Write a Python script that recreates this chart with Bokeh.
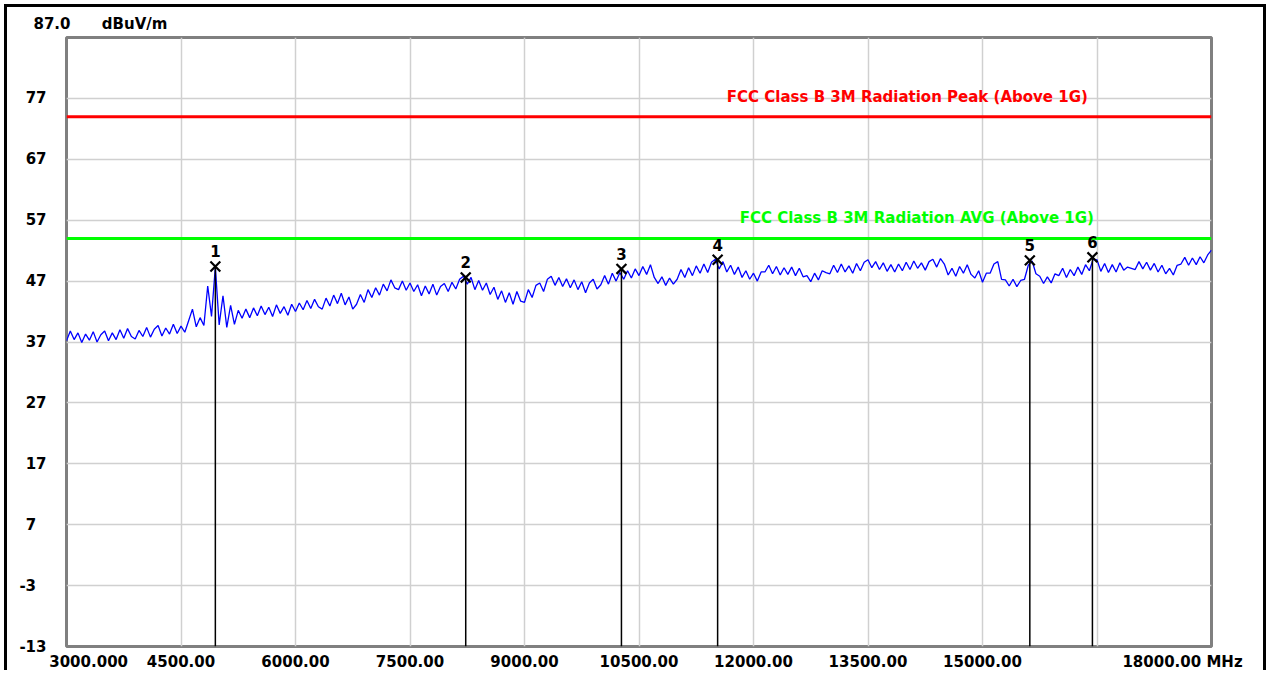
from bokeh.plotting import figure
from bokeh.models import Range1d, FixedTicker, ColumnDataSource
from bokeh.core.properties import value
from bokeh.embed import file_html
from bokeh.resources import INLINE

# ---------------- data ----------------
f_start, f_stop, f_step = 3000, 18000, 50
trace_level = [
    37.2, 38.8, 37.4, 38.5, 36.9, 38.3, 37.3, 38.7, 37.0, 38.2,
    38.8, 37.2, 38.5, 37.4, 39.0, 37.6, 39.2, 37.9, 37.5, 38.9,
    37.9, 39.4, 37.8, 39.1, 39.7, 38.0, 39.3, 38.3, 39.9, 38.4,
    39.6, 38.6, 40.5, 42.4, 39.5, 41.0, 39.7, 46.2, 41.2, 49.3,
    39.8, 44.6, 39.4, 43.0, 39.9, 42.2, 40.9, 42.4, 41.0, 42.6,
    41.3, 42.9, 41.5, 42.7, 41.2, 43.1, 41.7, 42.8, 41.4, 43.2,
    42.0, 43.4, 42.3, 43.8, 42.5, 44.0, 42.8, 42.4, 44.2, 42.9,
    44.7, 43.3, 45.0, 43.1, 44.4, 42.4, 43.2, 44.8, 43.5, 45.6,
    44.3, 45.9, 44.7, 46.5, 45.4, 47.2, 45.9, 45.6, 47.0, 45.5,
    46.7, 45.3, 46.4, 44.6, 46.2, 44.9, 46.5, 44.7, 46.1, 46.6,
    45.3, 46.8, 45.7, 47.3, 47.8, 46.5, 47.6, 45.6, 47.1, 45.5,
    46.7, 44.8, 46.0, 44.0, 45.4, 43.5, 45.1, 43.2, 45.3, 43.7,
    43.5, 45.6, 44.3, 46.3, 46.7, 45.3, 47.3, 47.8, 46.3, 47.6,
    46.1, 47.4, 45.9, 47.2, 45.6, 46.9, 45.1, 46.7, 47.3, 45.7,
    46.4, 47.9, 46.5, 48.3, 47.0, 48.4, 47.3, 48.7, 47.5, 49.0,
    47.9, 49.4, 48.1, 49.7, 47.6, 46.6, 47.7, 46.3, 47.5, 46.5,
    47.3, 48.9, 47.6, 49.2, 47.9, 49.5, 48.3, 49.8, 48.4, 50.1,
    50.6, 49.0, 50.2, 48.5, 49.6, 48.1, 49.3, 47.6, 48.7, 47.3,
    48.3, 47.0, 48.5, 48.5, 49.6, 48.2, 49.4, 48.0, 49.2, 48.1,
    49.3, 47.9, 49.1, 47.7, 47.9, 46.9, 48.3, 47.2, 48.7, 48.4,
    48.2, 49.6, 48.4, 49.8, 48.5, 49.5, 48.3, 49.9, 48.7, 50.1,
    50.5, 49.2, 50.2, 48.9, 50.0, 48.6, 49.7, 48.5, 49.8, 48.7,
    50.1, 48.9, 50.3, 49.1, 50.0, 48.8, 50.2, 50.6, 49.3, 50.7,
    49.8, 48.0, 49.1, 47.8, 49.4, 48.3, 49.7, 48.1, 47.5, 48.7,
    46.8, 48.3, 48.3, 49.8, 50.2, 47.3, 47.2, 46.2, 47.3, 46.1,
    47.1, 47.3, 49.6, 50.3, 48.2, 47.8, 46.6, 47.7, 46.7, 48.2,
    47.9, 49.1, 47.6, 48.9, 47.9, 49.3, 48.1, 49.7, 48.7, 50.6,
    50.5, 48.6, 49.9, 48.4, 49.7, 48.5, 50.0, 48.8, 49.3, 49.1,
    48.9, 50.2, 49.0, 50.1, 48.8, 49.9, 48.5, 49.6, 48.2, 49.1,
    48.0, 49.6, 49.8, 50.9, 49.6, 50.8, 49.7, 51.0, 50.0, 51.3,
    52.1,
]
trace_freq = [f_start + i * f_step for i in range(len(trace_level))]

marker_ids = ["1", "2", "3", "4", "5", "6"]
marker_freq = [4950, 8230, 10270, 11530, 15620, 16440]
marker_level = [49.4, 47.6, 49.0, 50.5, 50.4, 50.9]

limit_names = ["FCC Class B 3M Radiation Peak (Above 1G)",
               "FCC Class B 3M Radiation AVG (Above 1G)"]
limit_levels = [74, 54]
limit_colors = ["#ff0000", "#00ff00"]
limit_label_freq = [16380, 16460]

x_ticks = [3000, 4500, 6000, 7500, 9000, 10500, 12000, 13500, 15000, 16500, 18000]
x_tick_labels = ["\u2007\u2007\u2007\u20073000.000", "4500.00", "6000.00", "7500.00",
                 "9000.00", "10500.00", "12000.00", "13500.00", "15000.00", "",
                 "18000.00 MHz\u2007\u2007"]
y_ticks = [-13, -3, 7, 17, 27, 37, 47, 57, 67, 77]
y_tick_labels = ["-13", "-3\u2007", "7\u2007", "17", "27", "37", "47", "57", "67", "77"]
top_text = "87.0\u2007\u2007\u2007dBuV/m"

FONT = "DejaVu Sans"
FS = "15px"

# ---------------- figure ----------------
p = figure(width=1262, height=666, output_backend="svg", toolbar_location=None,
           x_range=Range1d(3000, 18000), y_range=Range1d(-13, 87),
           min_border_left=59, min_border_right=58, min_border_top=29, min_border_bottom=27,
           title=top_text)
p.styles = {"border": "3px solid black", "border-bottom": "none",
            "margin-left": "4px", "margin-top": "4px"}
p.background_fill_color = "white"
p.border_fill_color = "white"
p.outline_line_color = "#808080"
p.outline_line_width = 3

p.title.align = "left"
p.title.offset = -33
p.title.text_font = FONT
p.title.text_font_style = "bold"
p.title.text_font_size = FS
p.title.text_color = "black"
p.title.standoff = 10

for ax in (p.xaxis[0], p.yaxis[0]):
    ax.axis_line_color = None
    ax.major_tick_line_color = None
    ax.minor_tick_line_color = None
    ax.major_tick_out = 0
    ax.major_tick_in = 0
    ax.minor_tick_out = 0
    ax.major_label_text_font = FONT
    ax.major_label_text_font_style = "bold"
    ax.major_label_text_font_size = FS
    ax.major_label_text_color = "black"

p.xaxis.ticker = FixedTicker(ticks=x_ticks)
p.xaxis.major_label_overrides = dict(zip(x_ticks, x_tick_labels))
p.xaxis.major_label_standoff = 6
p.yaxis.ticker = FixedTicker(ticks=y_ticks)
p.yaxis.major_label_overrides = dict(zip(y_ticks, y_tick_labels))
p.yaxis.major_label_standoff = 20

p.xgrid.grid_line_color = "#d0d0d0"
p.ygrid.grid_line_color = "#d0d0d0"
p.xgrid.grid_line_width = 1.5
p.ygrid.grid_line_width = 1.5

# limit lines
for lvl, col, name, lf in zip(limit_levels, limit_colors, limit_names, limit_label_freq):
    p.line([f_start, f_stop], [lvl, lvl], line_color=col, line_width=3)
    p.text(x=[lf], y=[lvl], text=[name], text_color=col, text_align="right",
           text_baseline="bottom", y_offset=-11, text_font=value(FONT),
           text_font_style="bold", text_font_size=FS)

# trace
p.line(trace_freq, trace_level, line_color="#0000ff", line_width=1.3)

# markers
msrc = ColumnDataSource(dict(f=marker_freq, v=marker_level, id=marker_ids,
                             bottom=[-13] * len(marker_freq)))
p.segment(x0="f", y0="v", x1="f", y1="bottom", source=msrc, line_color="black", line_width=1.5)
p.scatter(x="f", y="v", source=msrc, marker="x", size=14, line_color="black", line_width=2.2)
p.text(x="f", y="v", text="id", source=msrc, text_align="center", text_baseline="bottom",
       y_offset=-9, text_font=value(FONT), text_font_style="bold", text_font_size=FS,
       text_color="black")

open("out.html", "w").write(file_html(p, INLINE))
